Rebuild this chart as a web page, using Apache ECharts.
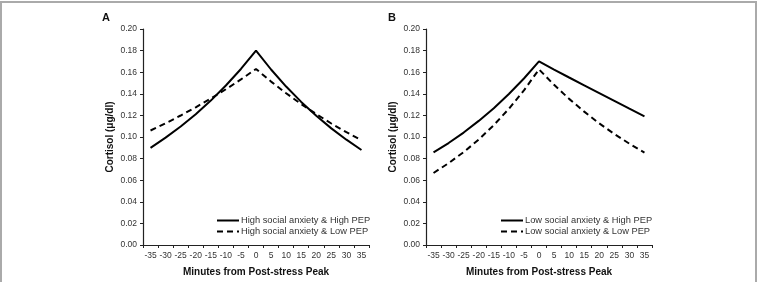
<!DOCTYPE html>
<html lang="en">
<head>
    <meta charset="UTF-8">
    <script src="https://cdn.jsdelivr.net/npm/echarts@6/dist/echarts.min.js"></script>
    <title>Cortisol</title>
    <style>
        html, body { margin: 0; padding: 0; background: #fff; }
    </style>
</head>
<body>
    <div id="main" style="width: 761px;height:282px;"></div>
</body>
</html>
<script type="text/javascript">
    // minutes from post-stress peak
    var minutes = ['-35', '-30', '-25', '-20', '-15', '-10', '-5', '0', '5', '10', '15', '20', '25', '30', '35'];

    // panel A - high social anxiety
    var highAnxHighPep = [0.090, 0.0994, 0.1097, 0.1211, 0.1337, 0.1477, 0.1630, 0.180, 0.1625, 0.1467, 0.1325, 0.1196, 0.1080, 0.0975, 0.088];
    var highAnxLowPep = [0.106, 0.1127, 0.1199, 0.1275, 0.1356, 0.1442, 0.1533, 0.163, 0.1513, 0.1405, 0.1305, 0.1212, 0.1125, 0.1045, 0.097];

    // panel B - low social anxiety
    var lowAnxHighPep = [0.0858, 0.0944, 0.1041, 0.1149, 0.1267, 0.1398, 0.1542, 0.170, 0.1624, 0.1551, 0.1479, 0.1407, 0.1335, 0.1262, 0.119];
    var lowAnxLowPep = [0.0667, 0.0758, 0.0860, 0.0977, 0.1110, 0.1261, 0.1432, 0.1626, 0.1483, 0.1353, 0.1235, 0.1126, 0.1028, 0.0938, 0.0855];

    var seriesNames = [
        'High social anxiety & High PEP',
        'High social anxiety & Low PEP',
        'Low social anxiety & High PEP',
        'Low social anxiety & Low PEP'
    ];

    var font = 'Liberation Sans, Arial, sans-serif';
    var chart = echarts.init(document.getElementById('main'));

    function xAxis(idx) {
        return {
            type: 'category',
            gridIndex: idx,
            data: minutes,
            boundaryGap: true,
            name: 'Minutes from Post-stress Peak',
            nameLocation: 'middle',
            nameGap: 22,
            nameTextStyle: { fontFamily: font, fontSize: 10, fontWeight: 'bold', color: '#111' },
            axisLine: { lineStyle: { color: '#222', width: 1.2 } },
            axisTick: { show: true, length: 3, alignWithLabel: false, lineStyle: { color: '#222' } },
            axisLabel: { interval: 0, fontFamily: font, fontSize: 8.5, color: '#333', margin: 6 },
            splitLine: { show: false }
        };
    }

    function yAxis(idx) {
        return {
            type: 'value',
            gridIndex: idx,
            min: 0,
            max: 0.2,
            interval: 0.02,
            name: 'Cortisol (μg/dl)',
            nameLocation: 'middle',
            nameRotate: 90,
            nameGap: 28,
            nameTextStyle: { fontFamily: font, fontSize: 10, fontWeight: 'bold', color: '#111' },
            axisLine: { show: true, lineStyle: { color: '#222', width: 1.2 } },
            axisTick: { show: true, length: 3, lineStyle: { color: '#222' } },
            axisLabel: {
                fontFamily: font, fontSize: 8.5, color: '#333', margin: 6,
                formatter: function (v) { return v.toFixed(2); }
            },
            splitLine: { show: false }
        };
    }

    function line(name, data, idx, dashed) {
        return {
            name: name,
            type: 'line',
            xAxisIndex: idx,
            yAxisIndex: idx,
            data: data,
            symbol: 'none',
            smooth: false,
            silent: true,
            lineStyle: { color: '#000', width: 2, type: dashed ? [6, 4] : 'solid' },
            itemStyle: { color: '#000' }
        };
    }

    function legend(names, left) {
        return {
            data: names,
            orient: 'vertical',
            left: left,
            top: 216,
            itemWidth: 22,
            itemHeight: 8,
            itemGap: 2,
            padding: 0,
            // hide the marker dot, keep only the line sample
            itemStyle: { opacity: 0 },
            textStyle: { fontFamily: font, fontSize: 9.3, color: '#333', padding: [0, 0, 0, -3] }
        };
    }

    var option = {
        animation: false,
        backgroundColor: '#fff',
        title: [
            { text: 'A', left: 102, top: 12, padding: 0, textStyle: { fontFamily: font, fontSize: 11, fontWeight: 'bold', color: '#111' } },
            { text: 'B', left: 388, top: 12, padding: 0, textStyle: { fontFamily: font, fontSize: 11, fontWeight: 'bold', color: '#111' } }
        ],
        graphic: [{
            type: 'rect',
            shape: { x: 1, y: 2, width: 755, height: 290 },
            style: { fill: 'none', stroke: '#aaaaaa', lineWidth: 2 },
            silent: true
        }],
        grid: [
            { left: 143, right: 392, top: 29, bottom: 34 },
            { left: 426, right: 109, top: 29, bottom: 34 }
        ],
        xAxis: [xAxis(0), xAxis(1)],
        yAxis: [yAxis(0), yAxis(1)],
        legend: [
            legend([seriesNames[0], seriesNames[1]], 216),
            legend([seriesNames[2], seriesNames[3]], 500)
        ],
        series: [
            line(seriesNames[0], highAnxHighPep, 0, false),
            line(seriesNames[1], highAnxLowPep, 0, true),
            line(seriesNames[2], lowAnxHighPep, 1, false),
            line(seriesNames[3], lowAnxLowPep, 1, true)
        ]
    };

    chart.setOption(option);
</script>
